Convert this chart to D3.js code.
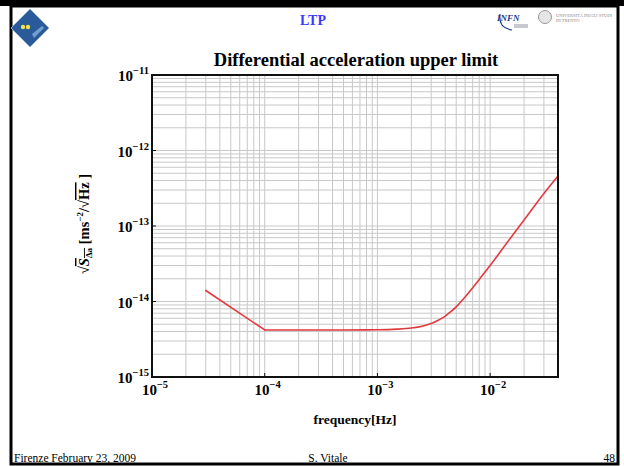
<!DOCTYPE html>
<html>
<head>
<meta charset="utf-8">
<script src="https://cdn.jsdelivr.net/npm/d3@7"></script>
<style>
  html, body { margin: 0; padding: 0; background: #fff; }
  svg { display: block; }
  text { font-family: "Liberation Serif", "DejaVu Serif", serif; }
</style>
</head>
<body>
<svg id="chart" width="624" height="466"></svg>
<script>
// Frequency (Hz) and the differential acceleration upper limit (m s^-2 / sqrt(Hz))
const frequency = [3e-5, 1e-4, 5e-4, 1e-3, 1.5e-3, 2e-3, 2.5e-3, 3e-3, 3.5e-3, 4e-3, 4.5e-3, 5e-3,
                   6e-3, 7e-3, 8e-3, 1e-2, 1.5e-2, 2e-2, 3e-2, 4e-2];
const accelLimit = [1.4e-14, 4.2e-15, 4.2e-15, 4.22e-15, 4.3e-15, 4.45e-15, 4.7e-15, 5.1e-15,
                    5.7e-15, 6.4e-15, 7.4e-15, 8.5e-15, 1.15e-14, 1.52e-14, 1.96e-14, 3.0e-14,
                    6.8e-14, 1.2e-13, 2.7e-13, 4.6e-13];
const xDecades = [-5, -4, -3, -2];
const yDecades = [-15, -14, -13, -12, -11];

const svg = d3.select("#chart");

// ---- slide frame and header ----
svg.append("rect").attr("x", 11).attr("y", 6).attr("width", 607).attr("height", 458)
  .attr("fill", "none").attr("stroke", "#000").attr("stroke-width", 3);
svg.append("rect").attr("x", 0).attr("y", 0).attr("width", 624).attr("height", 6).attr("fill", "#000");

// top-left emblem
const emb = svg.append("g").attr("transform", "translate(30,28)");
emb.append("path").attr("d", "M0,-19 L19,0 L0,19 L-19,0 Z").attr("fill", "#2a5a9a").attr("stroke", "#8fb0d8").attr("stroke-width", 1);
emb.append("path").attr("d", "M2,6 L12,-2 L14,0 L4,10 Z").attr("fill", "#6f9fd0");
emb.append("circle").attr("cx", -7).attr("cy", -1).attr("r", 2.2).attr("fill", "#f2e04a");
emb.append("circle").attr("cx", -2).attr("cy", -1).attr("r", 2.2).attr("fill", "#f2e04a");

svg.append("text").attr("x", 313).attr("y", 25).attr("text-anchor", "middle")
  .attr("font-size", 14).attr("font-weight", "bold").attr("fill", "#3a3aff").text("LTP");

// top-right logos
svg.append("text").attr("x", 497).attr("y", 21).attr("font-size", 9).attr("font-style", "italic")
  .attr("font-weight", "bold").attr("fill", "#1a3a8a").text("INFN");
svg.append("path").attr("d", "M500,14 Q498,28 512,30").attr("fill", "none").attr("stroke", "#1a3a8a").attr("stroke-width", 1.2);
svg.append("rect").attr("x", 514).attr("y", 24).attr("width", 14).attr("height", 4).attr("fill", "#c8c8d0");
svg.append("circle").attr("cx", 545).attr("cy", 17).attr("r", 6.5).attr("fill", "#e6e6e6").attr("stroke", "#999");
svg.append("text").attr("x", 556).attr("y", 17).attr("font-size", 4.5).attr("fill", "#888")
  .attr("font-family", "Liberation Sans").text("UNIVERSITÀ DEGLI STUDI");
svg.append("text").attr("x", 556).attr("y", 22).attr("font-size", 4.5).attr("fill", "#888")
  .attr("font-family", "Liberation Sans").text("DI TRENTO");

// footer
svg.append("text").attr("x", 14).attr("y", 462).attr("font-size", 11.5).text("Firenze February 23, 2009");
svg.append("text").attr("x", 328).attr("y", 462).attr("text-anchor", "middle").attr("font-size", 11.5).text("S. Vitale");
svg.append("text").attr("x", 615).attr("y", 462).attr("text-anchor", "end").attr("font-size", 11.5).text("48");

// ---- chart ----
const x = d3.scaleLog().domain([1e-5, 4e-2]).range([152, 558]);
const y = d3.scaleLog().domain([1e-15, 1e-11]).range([377, 75]);

svg.append("text").attr("x", 356).attr("y", 66).attr("text-anchor", "middle")
  .attr("font-size", 18.5).attr("font-weight", "bold").text("Differential acceleration upper limit");

const grid = svg.append("g").attr("stroke", "#c8c8c8").attr("stroke-width", 1);
x.ticks().filter(t => x(t) > 153 && x(t) < 557).forEach(t => {
  grid.append("line").attr("x1", x(t)).attr("x2", x(t)).attr("y1", y(1e-11)).attr("y2", y(1e-15));
});
y.ticks().filter(t => y(t) > 76 && y(t) < 376).forEach(t => {
  grid.append("line").attr("y1", y(t)).attr("y2", y(t)).attr("x1", x(1e-5)).attr("x2", x(4e-2));
});

// data curve: straight 1/f segment up to the corner, then a smooth rise
const pts = frequency.map((f, i) => [f, accelLimit[i]]);
const corner = 1;
const lineStyle = sel => sel.attr("fill", "none").attr("stroke", "#e0393e")
  .attr("stroke-width", 1.6).attr("stroke-linejoin", "round").attr("stroke-linecap", "round");
svg.append("path").datum(pts.slice(0, corner + 1)).call(lineStyle)
  .attr("d", d3.line().x(d => x(d[0])).y(d => y(d[1])));
svg.append("path").datum(pts.slice(corner)).call(lineStyle)
  .attr("d", d3.line().x(d => x(d[0])).y(d => y(d[1])).curve(d3.curveMonotoneX));

// axes box
svg.append("rect").attr("x", x(1e-5)).attr("y", y(1e-11))
  .attr("width", x(4e-2) - x(1e-5)).attr("height", y(1e-15) - y(1e-11))
  .attr("fill", "none").attr("stroke", "#111").attr("stroke-width", 2);

// small inward decade ticks
const tk = svg.append("g").attr("stroke", "#111").attr("stroke-width", 1);
xDecades.forEach(p => {
  tk.append("line").attr("x1", x(10 ** p)).attr("x2", x(10 ** p)).attr("y1", y(1e-15)).attr("y2", y(1e-15) - 4);
});
yDecades.forEach(p => {
  tk.append("line").attr("y1", y(10 ** p)).attr("y2", y(10 ** p)).attr("x1", x(1e-5)).attr("x2", x(1e-5) + 4);
});

// tick labels
function powerLabel(g, px, py, exp, anchor) {
  const t = g.append("text").attr("x", px).attr("y", py).attr("text-anchor", anchor)
    .attr("font-size", 15).attr("font-weight", "bold");
  t.append("tspan").text("10");
  t.append("tspan").attr("dy", -7).attr("font-size", 10.5).text("\u2212" + Math.abs(exp));
}
const lab = svg.append("g");
xDecades.forEach(p => powerLabel(lab, x(10 ** p) + 3, 395, p, "middle"));
yDecades.forEach(p => powerLabel(lab, 149, y(10 ** p) + 6, p, "end"));

svg.append("text").attr("x", 355).attr("y", 424).attr("text-anchor", "middle")
  .attr("font-size", 13.5).attr("font-weight", "bold").text("frequency[Hz]");

// y-axis label
const yl = svg.append("text").attr("transform", "translate(89,224) rotate(-90)")
  .attr("text-anchor", "middle").attr("font-size", 14.5).attr("font-weight", "bold");
yl.append("tspan").text("\u221A");
yl.append("tspan").attr("font-style", "italic").attr("text-decoration", "overline").text("S");
yl.append("tspan").attr("dy", 3).attr("font-size", 9).attr("text-decoration", "overline").text("\u0394a");
yl.append("tspan").attr("dy", -3).text(" [ms");
yl.append("tspan").attr("dy", -6).attr("font-size", 9).text("\u22122");
yl.append("tspan").attr("dy", 6).text("/\u221A");
yl.append("tspan").attr("text-decoration", "overline").text("Hz");
yl.append("tspan").text(" ]");
</script>
</body>
</html>
